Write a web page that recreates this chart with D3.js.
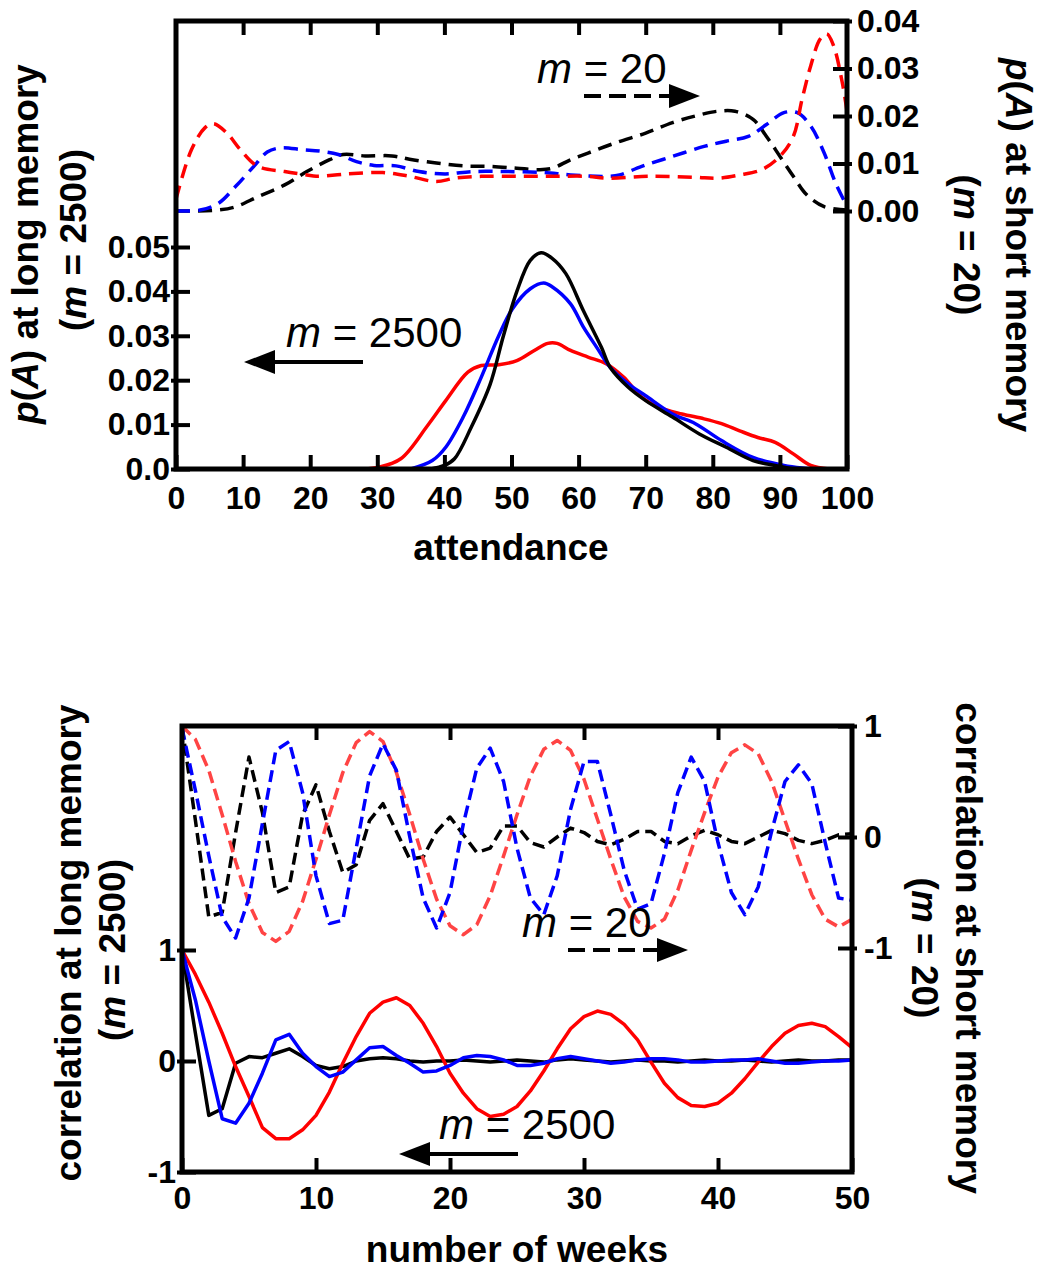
<!DOCTYPE html>
<html>
<head>
<meta charset="utf-8">
<script src="https://cdn.jsdelivr.net/npm/d3@7"></script>
<style>
  html, body { margin: 0; padding: 0; background: #fff; }
  svg { display: block; }
  text { font-family: "Liberation Sans", Arial, sans-serif; fill: #000; }
</style>
</head>
<body>
<svg id="chart" width="1045" height="1278"></svg>
<script>
// ---------------- DATA ----------------
// Top panel: attendance distributions p(A)
const attTicks = [0, 10, 20, 30, 40, 50, 60, 70, 80, 90, 100];
const longTicks = [0, 0.01, 0.02, 0.03, 0.04, 0.05];
const longTickLabels = ["0.0", "0.01", "0.02", "0.03", "0.04", "0.05"];
const shortTicks = [0, 0.01, 0.02, 0.03, 0.04];
const shortTickLabels = ["0.00", "0.01", "0.02", "0.03", "0.04"];

// long memory (m = 2500), solid, left axis: [attendance, p]
const longBlack = [[38,0],[40,0.0008],[41.5,0.0023],[44,0.0094],[46.8,0.019],[48.8,0.030],[50.8,0.040],[52.8,0.047],[54.4,0.0487],[56.1,0.0474],[58.1,0.044],[60.7,0.0357],[63.4,0.0274],[64.7,0.0229],[67.4,0.0184],[70,0.0154],[74,0.0117],[78,0.0079],[82,0.0049],[86,0.0019],[89.3,0.0008],[92,0]];
const longBlue = [[35,0],[38.2,0.0019],[40.2,0.0049],[42.8,0.0117],[45.5,0.0207],[48.1,0.030],[50.1,0.036],[52.8,0.0406],[54.8,0.0419],[56.1,0.041],[58.8,0.0372],[60.7,0.032],[62.7,0.0274],[64.7,0.0229],[67.4,0.0192],[70,0.0165],[74,0.0124],[77.4,0.0102],[81.3,0.0064],[86,0.0026],[90.6,0.0008],[93.3,0.0002],[95,0]];
const longRed = [[28,0],[30.2,0.0004],[33.5,0.0023],[37.5,0.0098],[40.2,0.0154],[43.5,0.0218],[45.5,0.0233],[48.1,0.0235],[50.8,0.0244],[53.4,0.0267],[55.4,0.0283],[56.8,0.0283],[58.8,0.0267],[61.4,0.0252],[64.1,0.0237],[66.7,0.0207],[69.4,0.0162],[72,0.0139],[75.4,0.0124],[78.7,0.0113],[81.3,0.0102],[84,0.0086],[86.7,0.0071],[89.3,0.006],[92,0.0034],[94.6,0.0008],[97.3,0]];

// short memory (m = 20), dashed, right axis: [attendance, p]
const shortRed = [[0,0.0025],[2.3,0.0129],[4.3,0.0175],[5.6,0.0184],[7.6,0.0164],[9.6,0.0129],[12.2,0.0094],[16.2,0.0083],[19.5,0.0076],[20.9,0.0073],[25.5,0.0078],[30.8,0.0081],[34.8,0.0073],[38.8,0.0062],[41.5,0.0069],[45.5,0.0073],[50.8,0.0073],[56.1,0.0073],[61.4,0.0073],[64.1,0.0069],[70.7,0.0073],[77.4,0.0071],[80.7,0.0069],[84,0.0076],[87.3,0.0087],[90,0.0115],[92,0.0157],[93.3,0.0235],[94.6,0.0306],[96,0.0362],[97,0.0373],[98,0.0348],[99.3,0.027],[100,0.021]];
const shortBlue = [[0,0],[3.6,0.0002],[6.3,0.0016],[8.9,0.0052],[11.6,0.0094],[13.6,0.0124],[15.6,0.0133],[18.9,0.0129],[21.5,0.0126],[24.2,0.0119],[26.9,0.0104],[29.5,0.0096],[32.8,0.0095],[36.2,0.0083],[40.1,0.0078],[44.1,0.0083],[49.4,0.0083],[54.8,0.0081],[58.8,0.0076],[64.1,0.0073],[66.1,0.0076],[69.4,0.0094],[74,0.0115],[78.7,0.0136],[82,0.0147],[85.3,0.0157],[88,0.0182],[90.6,0.0207],[92.6,0.0207],[94.6,0.0179],[96.6,0.0122],[98.3,0.0059],[100,0.001]];
const shortBlack = [[0,0],[6.3,0.0002],[8.9,0.0009],[12.2,0.003],[16.2,0.0055],[19.5,0.0083],[22.9,0.0108],[24.9,0.0119],[28.2,0.0116],[32.2,0.0116],[34.8,0.0109],[38.8,0.0101],[42.8,0.0095],[46.8,0.0094],[50.8,0.009],[54.1,0.0087],[56.1,0.009],[58.8,0.0108],[61.4,0.0122],[65.4,0.0143],[70,0.0164],[74,0.0186],[77.4,0.02],[80.7,0.021],[83.3,0.021],[86,0.0193],[88,0.0157],[90,0.0115],[92,0.0073],[94,0.0034],[96.6,0.0009],[100,0.0002]];

// Bottom panel: autocorrelation vs number of weeks (0..50)
const weekTicks = [0, 10, 20, 30, 40, 50];
const corrTicks = [-1, 0, 1];
const weeks = d3.range(0, 51);
// long memory (m = 2500), solid, left axis
const corrLongBlack = [1.0,0.25,-0.49,-0.43,-0.02,0.04,0.03,0.07,0.11,0.04,-0.04,-0.07,-0.05,0.0,0.02,0.03,0.02,0.0,-0.01,0.0,0.0,0.01,0.0,-0.01,0.0,0.01,0.0,-0.01,0.01,0.02,0.01,0.0,-0.01,0.0,0.01,0.0,0.0,-0.01,0.0,0.01,0.0,0.0,0.01,0.0,-0.01,0.0,0.01,0.0,0.0,0.01,0.01];
const corrLongBlue = [1.0,0.55,0.0,-0.52,-0.56,-0.38,-0.11,0.19,0.24,0.07,-0.05,-0.14,-0.10,0.01,0.12,0.13,0.05,-0.02,-0.10,-0.09,-0.04,0.03,0.05,0.04,0.01,-0.04,-0.04,-0.02,0.02,0.04,0.02,0.0,-0.02,-0.01,0.01,0.02,0.02,0.01,-0.01,-0.01,0.0,0.01,0.01,0.02,0.0,-0.02,-0.02,-0.01,0.0,0.0,0.01];
const corrLongRed = [1.0,0.78,0.53,0.25,-0.05,-0.32,-0.60,-0.70,-0.70,-0.62,-0.49,-0.28,-0.02,0.22,0.43,0.53,0.57,0.50,0.34,0.13,-0.11,-0.29,-0.43,-0.50,-0.48,-0.41,-0.27,-0.09,0.11,0.29,0.40,0.45,0.42,0.33,0.19,-0.01,-0.20,-0.33,-0.40,-0.41,-0.38,-0.29,-0.16,-0.01,0.13,0.25,0.32,0.34,0.31,0.22,0.12];
// short memory (m = 20), dashed, right axis
const corrShortBlack = [1.0,0.15,-0.72,-0.68,0.04,0.72,0.22,-0.50,-0.45,0.20,0.47,0.05,-0.32,-0.25,0.15,0.30,0.05,-0.20,-0.18,0.05,0.18,0.02,-0.14,-0.10,0.10,0.10,-0.05,-0.09,0.0,0.08,0.04,-0.04,-0.07,-0.02,0.05,0.05,-0.04,-0.06,0.01,0.06,0.02,-0.04,-0.06,0.0,0.06,0.03,-0.03,-0.06,-0.03,0.02,0.03];
const corrShortBlue = [0.98,0.42,-0.17,-0.72,-0.91,-0.55,0.12,0.78,0.86,0.40,-0.35,-0.78,-0.75,-0.10,0.55,0.84,0.60,0.00,-0.55,-0.82,-0.50,0.12,0.62,0.80,0.50,-0.10,-0.55,-0.70,-0.35,0.25,0.68,0.68,0.20,-0.30,-0.65,-0.60,-0.15,0.40,0.72,0.50,-0.05,-0.50,-0.70,-0.45,0.05,0.50,0.65,0.48,-0.05,-0.55,-0.57];
const corrShortRed = [1.0,0.88,0.60,0.20,-0.22,-0.60,-0.86,-0.94,-0.85,-0.58,-0.20,0.20,0.58,0.85,0.95,0.86,0.58,0.20,-0.20,-0.56,-0.80,-0.88,-0.79,-0.53,-0.17,0.20,0.55,0.79,0.87,0.78,0.52,0.16,-0.20,-0.54,-0.76,-0.82,-0.74,-0.48,-0.12,0.22,0.54,0.76,0.83,0.75,0.50,0.15,-0.20,-0.52,-0.74,-0.81,-0.74];

// ---------------- DRAWING ----------------
const svg = d3.select("#chart");
const FONT_TICK = 32, FONT_TITLE = 37, FONT_ANN = 42;

function frame(g, x0, y0, x1, y1) {
  g.append("rect").attr("x", x0).attr("y", y0).attr("width", x1 - x0).attr("height", y1 - y0)
    .attr("fill", "none").attr("stroke", "#000").attr("stroke-width", 5);
}
function styleAxis(sel) {
  sel.select(".domain").remove();
  sel.selectAll(".tick line").attr("stroke", "#000").attr("stroke-width", 4);
  sel.selectAll(".tick text").attr("font-size", FONT_TICK).attr("font-weight", "bold")
    .attr("font-family", "'Liberation Sans', Arial, sans-serif").attr("fill", "#000");
}
function arrow(g, xFrom, xTo, y, dashed) {
  const dir = xTo > xFrom ? 1 : -1;
  const headL = 31, headH = 12;
  g.append("line").attr("x1", xFrom).attr("x2", xTo - dir * headL * 0.6).attr("y1", y).attr("y2", y)
    .attr("stroke", "#000").attr("stroke-width", 4)
    .attr("stroke-dasharray", dashed ? "17,8" : null);
  g.append("path")
    .attr("d", `M${xTo},${y} L${xTo - dir * headL},${y - headH} L${xTo - dir * headL},${y + headH} Z`)
    .attr("fill", "#000");
}
function annot(g, x, y, num) {
  const t = g.append("text").attr("x", x).attr("y", y).attr("font-size", FONT_ANN);
  t.append("tspan").attr("font-style", "italic").text("m");
  t.append("tspan").text(" = " + num);
}
function title(g, x, y, rot, parts) {
  const t = g.append("text").attr("transform", `translate(${x},${y}) rotate(${rot})`)
    .attr("text-anchor", "middle").attr("font-size", FONT_TITLE).attr("font-weight", "bold");
  parts.forEach(p => t.append("tspan").attr("font-style", p[1] ? "italic" : "normal").text(p[0]));
  return t;
}

// ===== TOP PANEL =====
const T = { x0: 176, x1: 847, y0: 21, y1: 469 };
const xA = d3.scaleLinear().domain([0, 100]).range([T.x0, T.x1]);
const yLong = d3.scaleLinear().domain([0, 0.05]).range([T.y1, 247]);
const yShort = d3.scaleLinear().domain([0, 0.04]).range([211, T.y0]);

const topG = svg.append("g");
const lineLong = d3.line().x(d => xA(d[0])).y(d => yLong(d[1])).curve(d3.curveCatmullRom);
const lineShort = d3.line().x(d => xA(d[0])).y(d => yShort(d[1])).curve(d3.curveCatmullRom);

const dashTop = "14,8";
[[shortBlack, "#000"], [shortBlue, "#0000ff"], [shortRed, "#ff0000"]].forEach(([d, c]) => {
  topG.append("path").attr("d", lineShort(d)).attr("fill", "none").attr("stroke", c)
    .attr("stroke-width", 3.5).attr("stroke-dasharray", dashTop);
});
[[longRed, "#ff0000"], [longBlue, "#0000ff"], [longBlack, "#000"]].forEach(([d, c]) => {
  topG.append("path").attr("d", lineLong(d)).attr("fill", "none").attr("stroke", c)
    .attr("stroke-width", 3.5);
});

frame(topG, T.x0, T.y0, T.x1, T.y1);

topG.append("g").attr("transform", `translate(0,${T.y1})`)
  .call(d3.axisBottom(xA).tickValues(attTicks).tickSize(-14).tickPadding(17).tickFormat(d => d))
  .call(styleAxis);
topG.append("g").attr("transform", `translate(0,${T.y0})`)
  .call(d3.axisTop(xA).tickValues(attTicks.slice(1, -1)).tickSize(-14).tickFormat(""))
  .call(styleAxis);
topG.append("g").attr("transform", `translate(${T.x0},0)`)
  .call(d3.axisLeft(yLong).tickValues(longTicks).tickSize(-14).tickPadding(6)
    .tickFormat((d, i) => longTickLabels[i]))
  .call(styleAxis)
  .call(g => g.selectAll(".tick line").attr("x1", -5));
topG.append("g").attr("transform", `translate(${T.x1},0)`)
  .call(d3.axisRight(yShort).tickValues(shortTicks).tickSize(-14).tickPadding(10)
    .tickFormat((d, i) => shortTickLabels[i]))
  .call(styleAxis)
  .call(g => g.selectAll(".tick line").attr("x1", 5));

topG.append("text").attr("x", 511).attr("y", 560).attr("text-anchor", "middle")
  .attr("font-size", FONT_TITLE).attr("font-weight", "bold").text("attendance");

title(topG, 38, 244, -90, [["p", true], ["(", false], ["A", true], [") at long memory", false]]);
title(topG, 86, 240, -90, [["(", false], ["m", true], [" = 2500)", false]]);
title(topG, 1006, 245, 90, [["p", true], ["(", false], ["A", true], [") at short memory", false]]);
title(topG, 954, 245, 90, [["(", false], ["m", true], [" = 20)", false]]);

annot(topG, 537, 83, "20");
arrow(topG, 584, 700, 96, true);
annot(topG, 286, 347, "2500");
arrow(topG, 363, 244, 362, false);

// ===== BOTTOM PANEL =====
const B = { x0: 182, x1: 852, y0: 726, y1: 1172 };
const xW = d3.scaleLinear().domain([0, 50]).range([B.x0, B.x1]);
const yCL = d3.scaleLinear().domain([-1, 1]).range([B.y1, 950]);
const yCS = d3.scaleLinear().domain([-1, 1]).range([948, B.y0]);

const botG = svg.append("g");
const lineCL = d3.line().x((d, i) => xW(weeks[i])).y(d => yCL(d));
const lineCS = d3.line().x((d, i) => xW(weeks[i])).y(d => yCS(d));

const dashBot = "12,6";
[[corrShortBlack, "#000"], [corrShortRed, "#ff4444"], [corrShortBlue, "#0000ff"]].forEach(([d, c]) => {
  botG.append("path").attr("d", lineCS(d)).attr("fill", "none").attr("stroke", c)
    .attr("stroke-width", 3.5).attr("stroke-dasharray", dashBot).attr("stroke-linejoin", "round");
});
[[corrLongBlack, "#000"], [corrLongRed, "#ff0000"], [corrLongBlue, "#0000ff"]].forEach(([d, c]) => {
  botG.append("path").attr("d", lineCL(d)).attr("fill", "none").attr("stroke", c)
    .attr("stroke-width", 3.5).attr("stroke-linejoin", "round");
});

frame(botG, B.x0, B.y0, B.x1, B.y1);

botG.append("g").attr("transform", `translate(0,${B.y1})`)
  .call(d3.axisBottom(xW).tickValues(weekTicks).tickSize(-14).tickPadding(14).tickFormat(d => d))
  .call(styleAxis);
botG.append("g").attr("transform", `translate(0,${B.y0})`)
  .call(d3.axisTop(xW).tickValues(weekTicks.slice(1, -1)).tickSize(-14).tickFormat(""))
  .call(styleAxis);
botG.append("g").attr("transform", `translate(${B.x0},0)`)
  .call(d3.axisLeft(yCL).tickValues(corrTicks).tickSize(-14).tickPadding(6).tickFormat(d => String(d)))
  .call(styleAxis)
  .call(g => g.selectAll(".tick line").attr("x1", -5));
botG.append("g").attr("transform", `translate(${B.x1},0)`)
  .call(d3.axisRight(yCS).tickValues(corrTicks).tickSize(-14).tickPadding(12).tickFormat(d => String(d)))
  .call(styleAxis)
  .call(g => g.selectAll(".tick line").attr("x1", 5));

botG.append("text").attr("x", 517).attr("y", 1262).attr("text-anchor", "middle")
  .attr("font-size", FONT_TITLE).attr("font-weight", "bold").text("number of weeks");

title(botG, 81, 943, -90, [["correlation at long memory", false]]);
title(botG, 125, 950, -90, [["(", false], ["m", true], [" = 2500)", false]]);
title(botG, 956, 948, 90, [["correlation at short memory", false]]);
title(botG, 912, 948, 90, [["(", false], ["m", true], [" = 20)", false]]);

annot(botG, 522, 937, "20");
arrow(botG, 568, 688, 950, true);
annot(botG, 439, 1139, "2500");
arrow(botG, 518, 399, 1154, false);
</script>
</body>
</html>
